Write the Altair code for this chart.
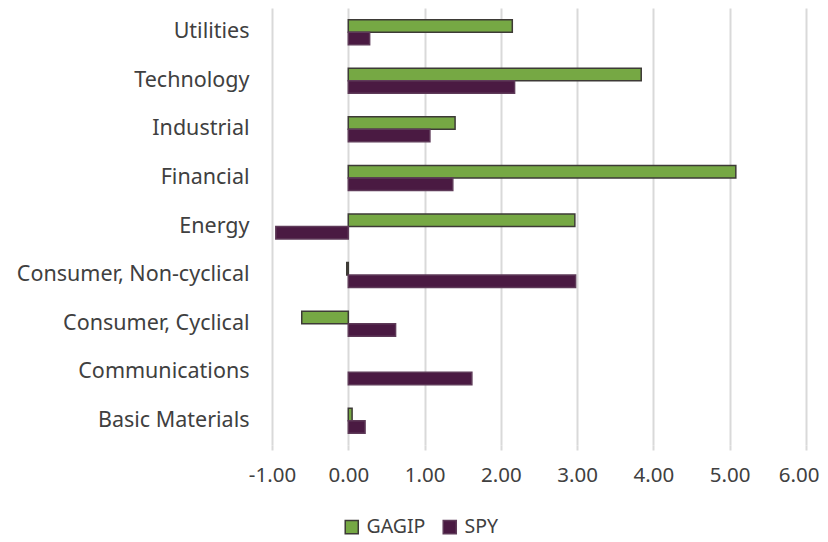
import altair as alt
import pandas as pd

categories = ["Utilities", "Technology", "Industrial", "Financial", "Energy",
              "Consumer, Non-cyclical", "Consumer, Cyclical", "Communications",
              "Basic Materials"]
gagip = [2.15, 3.84, 1.40, 5.08, 2.97, -0.02, -0.61, None, 0.05]
spy = [0.28, 2.18, 1.07, 1.37, -0.95, 2.98, 0.62, 1.62, 0.22]
series = ["GAGIP", "SPY"]
x_ticks = [-1, 0, 1, 2, 3, 4, 5, 6]

rows = []
for c, g, s in zip(categories, gagip, spy):
    if g is not None:
        rows.append({"Sector": c, "Series": "GAGIP", "Value": g})
    if s is not None:
        rows.append({"Sector": c, "Series": "SPY", "Value": s})
df = pd.DataFrame(rows)

FONT = "Noto Sans"
TXT = "#404040"
FS = 21.5

legend_kw = dict(title=None, orient="none", direction="horizontal",
                 legendX=70, legendY=509, symbolType="square",
                 symbolSize=170, labelFontSize=19.5, labelColor=TXT,
                 labelFont=FONT, columnPadding=14, labelOffset=5,
                 symbolStrokeWidth=1.5)

chart = alt.Chart(df).mark_bar(strokeWidth=1.5).encode(
    y=alt.Y("Sector:N", sort=categories, title=None,
            scale=alt.Scale(paddingInner=0.485, paddingOuter=0.24),
            axis=alt.Axis(domain=False, ticks=False, labelFontSize=FS,
                          labelColor=TXT, labelFont=FONT, labelPadding=23,
                          labelLimit=400)),
    yOffset=alt.YOffset("Series:N", sort=series),
    x=alt.X("Value:Q", title=None,
            scale=alt.Scale(domain=[-1, 6], nice=False),
            axis=alt.Axis(values=x_ticks,
                          labelExpr="datum.value < 0 ? '-' + format(-datum.value, '.2f') : format(datum.value, '.2f')",
                          labelOverlap=False, labelFlush=False,
                          labelAlign={"expr": "datum.value == 6 ? 'right' : 'center'"},
                          labelOffset={"expr": "datum.value == 6 ? 13 : 0"},
                          domain=False, grid=True, gridColor="#d9d9d9",
                          gridWidth=2, ticks=True, tickColor="#d9d9d9",
                          tickWidth=2, tickSize=5, labelFontSize=20.5,
                          labelColor=TXT, labelFont=FONT, labelPadding=15)),
    fill=alt.Fill("Series:N", sort=series,
                  scale=alt.Scale(domain=series, range=["#76A844", "#4A1A42"]),
                  legend=alt.Legend(**legend_kw)),
    stroke=alt.Stroke("Series:N", sort=series,
                      scale=alt.Scale(domain=series, range=["#3d3a36", "#5e3a58"]),
                      legend=alt.Legend(**legend_kw)),
).properties(
    width=534, height=437,
    autosize=alt.AutoSizeParams(type="none"),
    padding={"left": 264, "top": 0, "right": 14, "bottom": 95},
).configure_view(stroke=None)

chart.save("out.html", embed_options={"renderer": "svg", "actions": False})
